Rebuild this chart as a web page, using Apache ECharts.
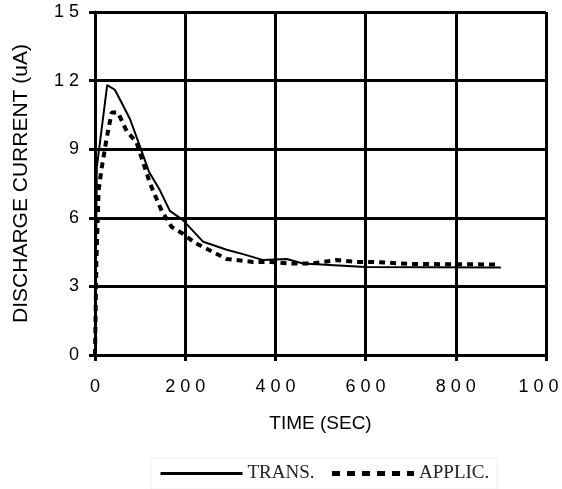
<!DOCTYPE html>
<html>
<head>
<meta charset="utf-8">
<script src="https://cdn.jsdelivr.net/npm/echarts@6/dist/echarts.min.js"></script>
<style>
html,body{margin:0;padding:0;background:#fff;}
#chart{width:562px;height:489px;}
</style>
</head>
<body>
<div id="chart"></div>
<script>
// Data
const transTime = [0, 2, 4, 27, 44, 60, 78, 100, 120, 144, 166, 195, 240, 292, 330, 373, 425, 461, 600, 900];
const transCurrent = [0, 4, 8.2, 11.8, 11.6, 11.0, 10.3, 9.1, 8.0, 7.2, 6.3, 5.9, 4.95, 4.6, 4.4, 4.15, 4.2, 4.0, 3.85, 3.83];
const applicTime = [0, 3, 8, 15, 26, 37, 51, 70, 92, 122, 148, 170, 195, 222, 262, 292, 350, 388, 432, 480, 536, 580, 617, 700, 890];
const applicCurrent = [0, 4, 7.2, 8.2, 9.5, 10.6, 10.6, 9.8, 9.3, 7.5, 6.3, 5.6, 5.3, 4.9, 4.5, 4.2, 4.07, 4.07, 4.0, 4.0, 4.15, 4.07, 4.07, 3.98, 3.96];
const seriesNames = ['TRANS.', 'APPLIC.'];
const xTitle = 'TIME (SEC)';
const yTitle = 'DISCHARGE CURRENT (uA)';

function pairs(xs, ys) { return xs.map((x, i) => [x, ys[i]]); }
function spaced(v) { return String(v).split('').join(' '); }

const chart = echarts.init(document.getElementById('chart'), null, {renderer: 'canvas'});
chart.setOption({
  animation: false,
  backgroundColor: '#ffffff',
  grid: {left: 95, right: 16, top: 12, bottom: 134, containLabel: false, outerBoundsMode: 'none'},
  xAxis: {
    type: 'value', min: 0, max: 1000, interval: 200,
    name: xTitle, nameLocation: 'middle', nameGap: 59,
    nameTextStyle: {color: '#000', fontFamily: 'Liberation Sans', fontSize: 19},
    axisLine: {show: true, onZero: false, lineStyle: {color: '#000', width: 3}},
    axisTick: {show: true, length: 6, lineStyle: {color: '#000', width: 3}},
    axisLabel: {color: '#000', fontFamily: 'Liberation Sans', fontSize: 18, margin: 23, formatter: spaced, showMaxLabel: true, hideOverlap: false},
    splitLine: {show: true, lineStyle: {color: '#000', width: 3}}
  },
  yAxis: {
    type: 'value', min: 0, max: 15, interval: 3,
    name: yTitle, nameLocation: 'middle', nameGap: 63, nameRotate: 90,
    nameTextStyle: {color: '#000', fontFamily: 'Liberation Sans', fontSize: 21},
    axisLine: {show: true, lineStyle: {color: '#000', width: 3}},
    axisTick: {show: true, length: 6, lineStyle: {color: '#000', width: 3}},
    axisLabel: {color: '#000', fontFamily: 'Liberation Sans', fontSize: 18, margin: 16, formatter: spaced},
    splitLine: {show: true, lineStyle: {color: '#000', width: 3}}
  },
  legend: {
    top: 458, left: 151,
    itemWidth: 82, itemHeight: 14, itemGap: 15,
    padding: [6, 8, 6, 8],
    borderColor: '#f0f0f0', borderWidth: 1,
    textStyle: {color: '#222', fontFamily: 'Liberation Serif', fontSize: 19, padding: [6, 0, 0, 0]},
    data: [
      {name: seriesNames[0], itemStyle: {opacity: 0, borderWidth: 0}, lineStyle: {color: '#000', width: 3, type: 'solid'}},
      {name: seriesNames[1], itemStyle: {opacity: 0, borderWidth: 0}, lineStyle: {color: '#000', width: 5, type: [8, 7]}}
    ]
  },
  series: [
    {
      name: seriesNames[0], type: 'line', symbol: 'none', z: 3,
      data: pairs(transTime, transCurrent),
      lineStyle: {color: '#000', width: 2, type: 'solid'},
      itemStyle: {color: '#000'}
    },
    {
      name: seriesNames[1], type: 'line', symbol: 'none', z: 4,
      data: pairs(applicTime, applicCurrent),
      lineStyle: {color: '#000', width: 4, type: [6, 5]},
      itemStyle: {color: '#000'}
    }
  ]
});
</script>
</body>
</html>
